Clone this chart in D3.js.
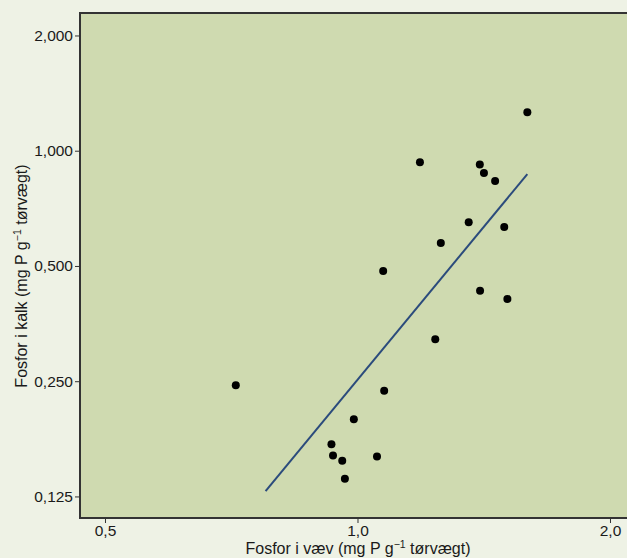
<!DOCTYPE html>
<head>
   <meta charset="utf-8">
   <script src="https://d3js.org/d3.v7.min.js"></script>
   <style>
   body{
      margin: 0;
      background: #eef2e5;
   }
   text{
      font-family: "Liberation Sans", Arial, sans-serif;
      font-size: 16px;
      fill: #1a1a1a;
   }
   .tick line{
      stroke: #333333;
   }
   path.domain{
      display: none;
   }
   </style>
</head>
<body>
<script>
const width = 627;
const height = 558;

// tissue phosphorus (x) and calcite phosphorus (y), mg P per g dry weight
const vaev = [1.594, 1.187, 1.399, 1.415, 1.459, 1.357, 1.496, 1.257, 1.073, 1.400,
              1.509, 1.238, 1.076, 0.990, 0.931, 0.935, 0.959, 1.055, 0.966, 0.716];
const kalk = [1.260, 0.933, 0.921, 0.874, 0.833, 0.650, 0.632, 0.574, 0.485, 0.431,
              0.410, 0.322, 0.236, 0.199, 0.171, 0.160, 0.155, 0.159, 0.139, 0.244];

// fitted line endpoints
const fitX = [0.777, 1.594];
const fitY = [0.129, 0.869];

const xTicks = [0.5, 1.0, 2.0];
const yTicks = [0.125, 0.25, 0.5, 1.0, 2.0];

const margin = {top: 13, right: -9, bottom: 40, left: 80};

const svg = d3.select("body").append("svg")
   .attr("width", width)
   .attr("height", height);

const x = d3.scaleLog().base(2)
   .domain([0.5 * Math.pow(2, -0.099), 2.0 * Math.pow(2, 0.103)])
   .range([margin.left, width - margin.right]);

const y = d3.scaleLog().base(2)
   .domain([0.125 * Math.pow(2, -0.187), 2.0 * Math.pow(2, 0.195)])
   .range([height - margin.bottom, margin.top]);

const fmtX = d => d.toFixed(1).replace(".", ",");
const fmtY = d => d.toFixed(3).replace(".", ",");

// panel
svg.append("rect")
   .attr("x", margin.left)
   .attr("y", margin.top)
   .attr("width", width - margin.right - margin.left)
   .attr("height", height - margin.bottom - margin.top)
   .style("fill", "#cfdab0")
   .style("stroke", "#333333")
   .style("stroke-width", 2);

svg.append("g")
   .attr("transform", `translate(${margin.left - 1}, 0)`)
   .call(d3.axisLeft(y).tickValues(yTicks).tickFormat(fmtY).tickSize(4).tickPadding(2))
   .selectAll(".tick text").style("font-size", "15.5px");

svg.append("g")
   .attr("transform", `translate(0, ${height - margin.bottom + 1})`)
   .call(d3.axisBottom(x).tickValues(xTicks).tickFormat(fmtX).tickSize(4).tickPadding(2))
   .selectAll(".tick text").style("font-size", "15.5px");

const data = vaev.map((v, i) => ({x: v, y: kalk[i]}));

svg.append("path")
   .datum(fitX.map((v, i) => [v, fitY[i]]))
   .attr("d", d3.line().x(d => x(d[0])).y(d => y(d[1])))
   .style("fill", "none")
   .style("stroke", "#2b4b7c")
   .style("stroke-width", 2);

svg.selectAll("circle.pt")
   .data(data)
   .enter()
   .append("circle")
   .attr("class", "pt")
   .attr("cx", d => x(d.x))
   .attr("cy", d => y(d.y))
   .attr("r", 4)
   .style("fill", "#000000");

// axis titles
const xt = svg.append("text")
   .attr("x", (margin.left + width - margin.right) / 2)
   .attr("y", 554)
   .style("text-anchor", "middle");
xt.append("tspan").text("Fosfor i væv (mg P g");
xt.append("tspan").attr("dy", -6).style("font-size", "10.5px").text("\u22121");
xt.append("tspan").attr("dy", 6).text(" tørvægt)");

const yt = svg.append("text")
   .attr("transform", `translate(27, 276) rotate(-90)`)
   .style("text-anchor", "middle");
yt.append("tspan").text("Fosfor i kalk (mg P g");
yt.append("tspan").attr("dy", -6).style("font-size", "10.5px").text("\u22121");
yt.append("tspan").attr("dy", 6).text(" tørvægt)");
</script>
</body>
